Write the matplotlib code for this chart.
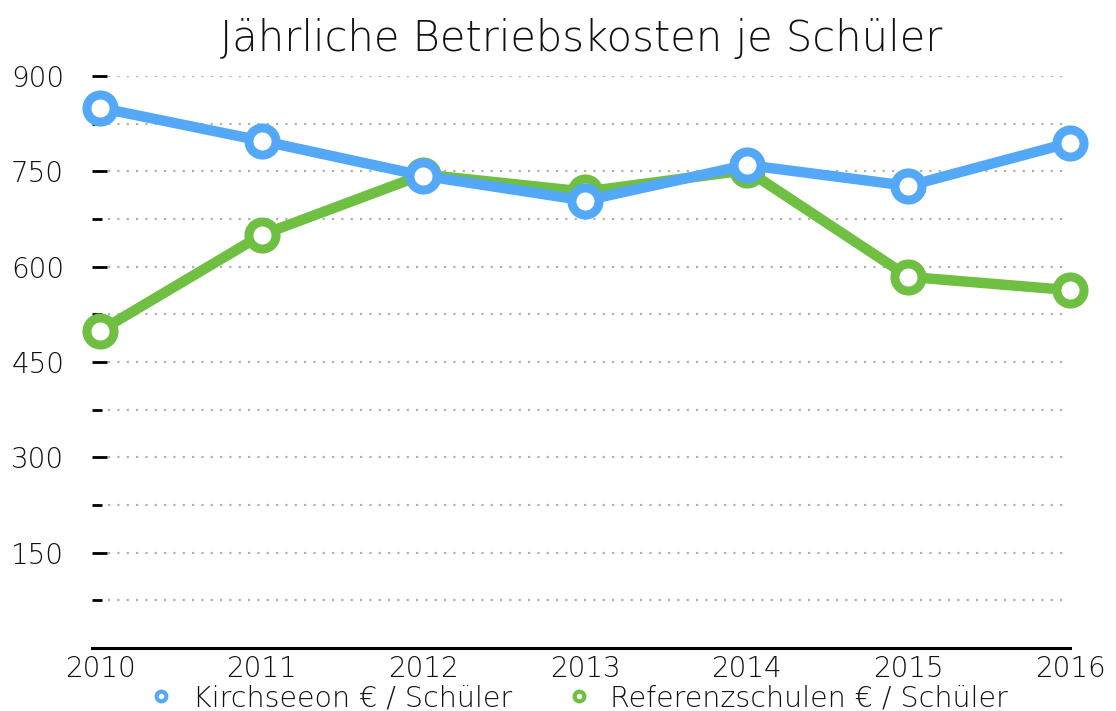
import numpy as np
import matplotlib.pyplot as plt

# Donnees
annees = [2010, 2011, 2012, 2013, 2014, 2015, 2016]
kirchseeon = [850, 798, 743, 704, 760, 727, 795]
referenz = [499, 650, 745, 718, 752, 584, 563]
ticks_major = [150, 300, 450, 600, 750, 900]
ticks_minor = [75, 225, 375, 525, 675, 825]

bleu = "#53a9f7"
vert = "#6fbf43"

plt.rcParams['font.family'] = ['DejaVu Sans']
plt.rcParams['font.weight'] = 'light'

fig = plt.figure(figsize=(11.16, 7.11), dpi=100)
ax = fig.add_axes([92/1116, 63/711, 978/1116, 572/711])

ax.set_xlim(2009.95, 2016)
ax.set_ylim(0, 900)

# lignes de grille pointillees
for v in ticks_major + ticks_minor:
    ax.plot([2010.05, 2015.96], [v, v], color="#b0b0b0", lw=1.6,
            linestyle=(0, (1, 3.2)), zorder=1)

ax.plot(annees, referenz, color=vert, lw=7.5, marker="o", markersize=19.5,
        markeredgewidth=6.5, markerfacecolor="white", markeredgecolor=vert,
        label="Referenzschulen € / Schüler", zorder=3, clip_on=False)
ax.plot(annees, kirchseeon, color=bleu, lw=7.5, marker="o", markersize=19.5,
        markeredgewidth=6.5, markerfacecolor="white", markeredgecolor=bleu,
        label="Kirchseeon € / Schüler", zorder=4, clip_on=False)

for s in ["top", "right", "left"]:
    ax.spines[s].set_visible(False)
ax.spines["bottom"].set_linewidth(2.2)

ax.set_yticks(ticks_major)
ax.set_yticks(ticks_minor, minor=True)
ax.set_xticks(annees)
ax.tick_params(axis="y", which="major", direction="in", length=11, width=2,
               labelsize=20, pad=20, labelcolor="#111111")
ax.tick_params(axis="y", which="minor", direction="in", length=7, width=2)
ax.tick_params(axis="x", length=0, labelsize=20, pad=5, labelcolor="#111111")

ax.set_title("Jährliche Betriebskosten je Schüler", fontsize=30, pad=18,
             fontweight="light", color="#111111")

h, l = ax.get_legend_handles_labels()
leg = fig.legend([h[1], h[0]], [l[1], l[0]], loc="lower center",
                 bbox_to_anchor=(0.518, -0.038), ncol=2, frameon=False,
                 fontsize=20.5, handlelength=0.9, columnspacing=1.9,
                 handletextpad=0.65)
for t in leg.get_texts():
    t.set_color("#111111")
for lh in leg.legend_handles:
    lh.set_linestyle("none")
    lh.set_markersize(7)
    lh.set_markeredgewidth(3)

fig.savefig("out.png", dpi=100)
